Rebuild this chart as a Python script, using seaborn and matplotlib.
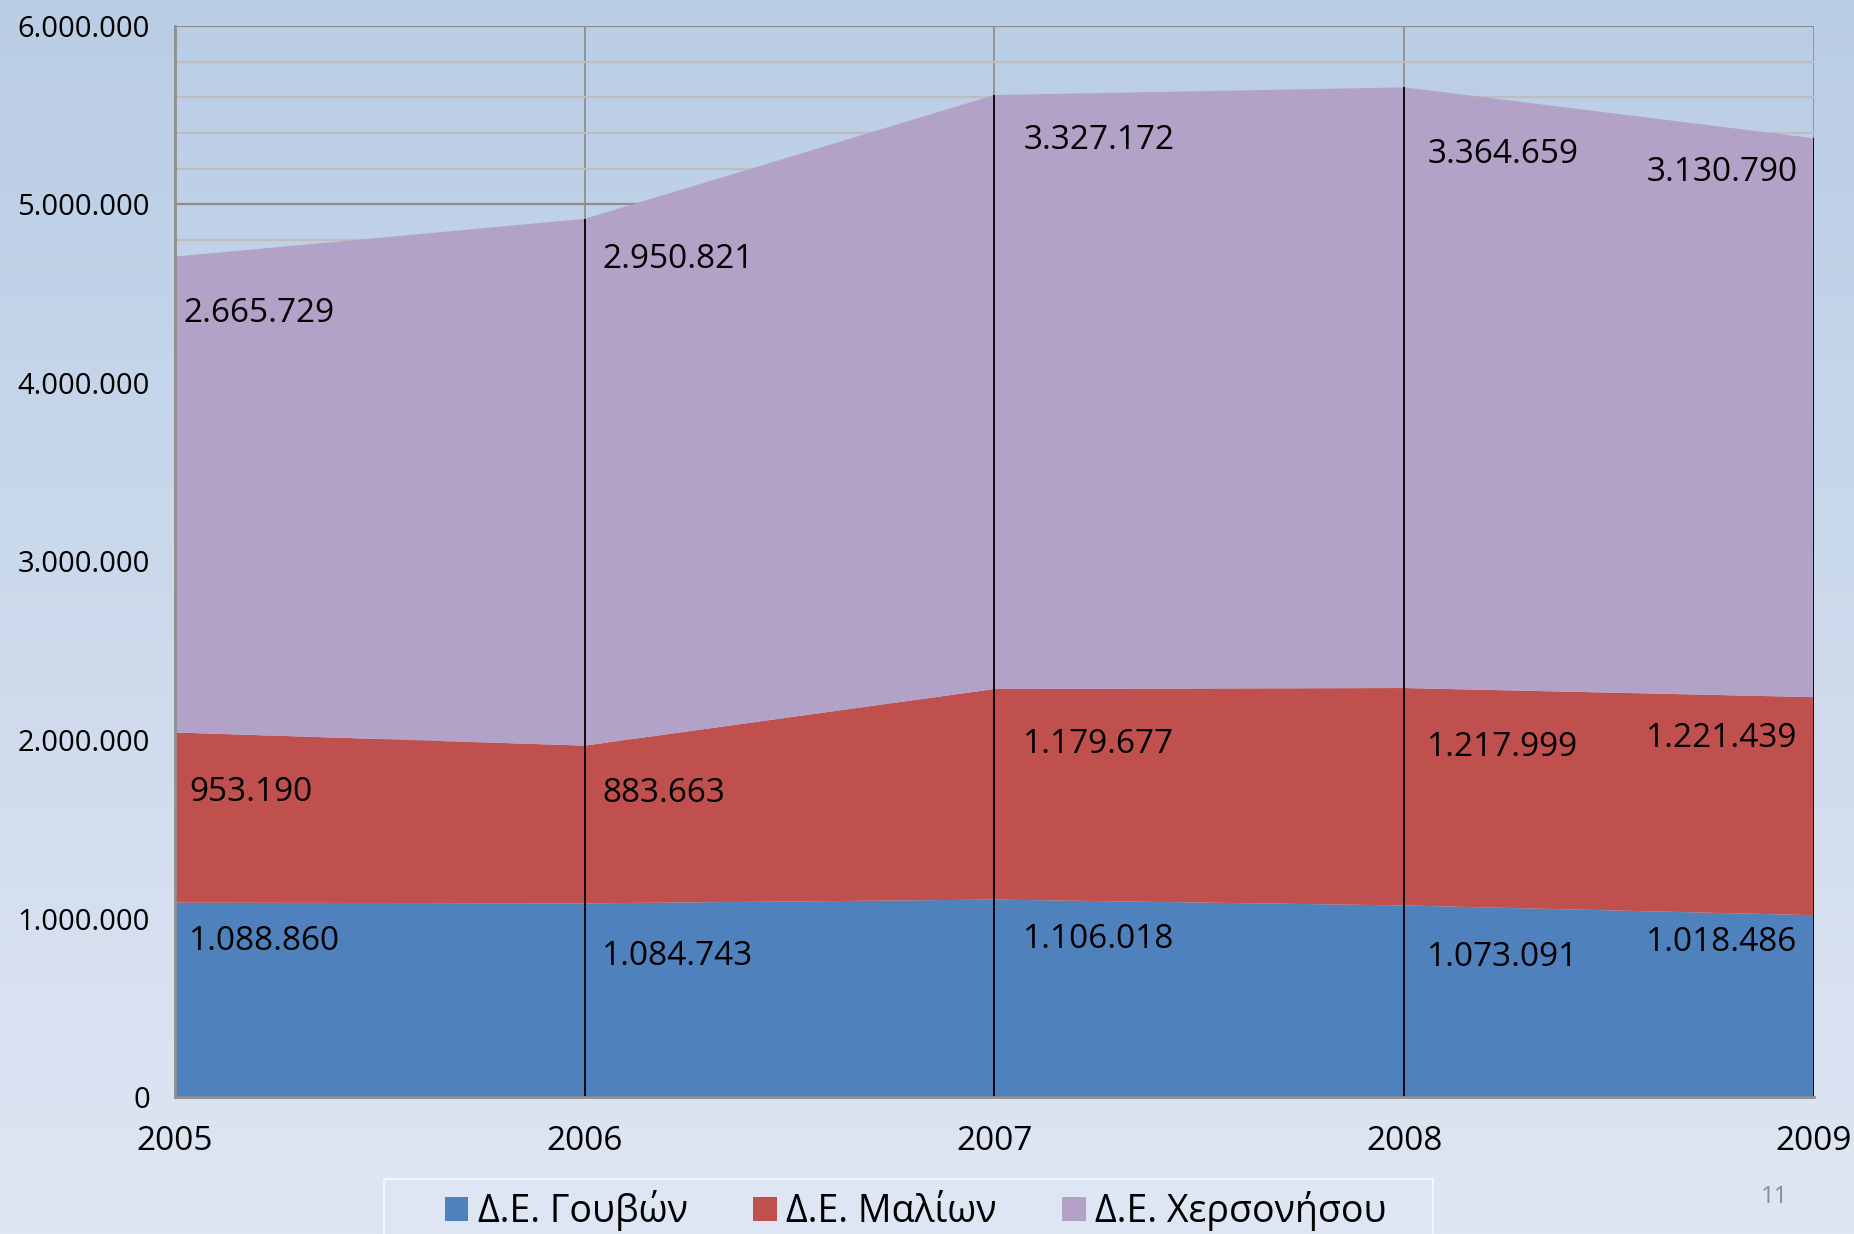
import numpy as np
import pandas as pd
import matplotlib
matplotlib.use('Agg')
import matplotlib.pyplot as plt
import seaborn as sns
from matplotlib.patches import Rectangle
from matplotlib.ticker import FuncFormatter, MultipleLocator

sns.set_style('white')
plt.rcParams['font.family'] = ['Open Sans', 'DejaVu Sans']
plt.rcParams['text.color'] = 'black'
plt.rcParams['xtick.color'] = 'black'
plt.rcParams['ytick.color'] = 'black'

# ---- data ----
years = [2005, 2006, 2007, 2008, 2009]
gouves = [1088860, 1084743, 1106018, 1073091, 1018486]
malia = [953190, 883663, 1179677, 1217999, 1221439]
chersonisos = [2665729, 2950821, 3327172, 3364659, 3130790]
series_names = ['Δ.Ε. Γουβών', 'Δ.Ε. Μαλίων', 'Δ.Ε. Χερσονήσου']
colors = ['#4F81BD', '#C0504D', '#B3A2C7']

# label placement (offset below the band top, in axis units / years)
label_drop = {
    series_names[0]: [220000, 297000, 225000, 291000, 151000],
    series_names[1]: [334000, 266000, 312000, 331000, 233000],
    series_names[2]: [317000, 230000, 255000, 377000, 192000],
}
label_dx = [0.035, 0.042, 0.07, 0.056, -0.04]

df = pd.DataFrame({'year': years, series_names[0]: gouves,
                   series_names[1]: malia, series_names[2]: chersonisos})


def dotted(v, pos=None):
    return f'{int(v):,}'.replace(',', '.')


fig = plt.figure(figsize=(18.54, 12.34), dpi=100)

# background gradient
bg = fig.add_axes([0, 0, 1, 1], zorder=-10)
grad = np.linspace(0, 1, 256).reshape(-1, 1)
cmap = matplotlib.colors.LinearSegmentedColormap.from_list('bg', ['#B9CDE5', '#DFE6F3'])
bg.imshow(grad, aspect='auto', cmap=cmap, extent=[0, 1, 0, 1], origin='upper')
bg.axis('off')

ax = fig.add_axes([0.0944, 0.111, 0.884, 0.868])
ax.patch.set_alpha(0)

# grid (behind areas)
ax.yaxis.set_major_locator(MultipleLocator(1000000))
ax.yaxis.set_minor_locator(MultipleLocator(200000))
ax.grid(which='minor', axis='y', color='#BDBDBD', lw=1.6, zorder=0)
ax.grid(which='major', axis='y', color='#8E8E8E', lw=1.6, zorder=0)
ax.grid(which='major', axis='x', color='#8E8E8E', lw=1.3, zorder=0)

ax.stackplot(df['year'], df[series_names[0]], df[series_names[1]], df[series_names[2]],
             colors=colors, labels=series_names, edgecolor='none', linewidth=0, zorder=2)

# drop lines
stack = df[series_names].cumsum(axis=1)
ax.vlines(df['year'], 0, stack[series_names[2]], color='black', lw=1.3, zorder=3)

# data labels
for name in series_names:
    tops = stack[name]
    vals = df[name]
    for i, yr in enumerate(years):
        ha = 'right' if label_dx[i] < 0 else 'left'
        dx = label_dx[i]
        if i == 0 and name == series_names[2]:
            dx = 0.02
        ax.text(yr + dx, tops[i] - label_drop[name][i], dotted(vals[i]), ha=ha, va='center',
                fontsize=24, color='black', zorder=4)

ax.set_xlim(2005, 2009)
ax.set_ylim(0, 6000000)
ax.set_xticks(years)
ax.set_xticklabels([str(y) for y in years])
ax.yaxis.set_major_formatter(FuncFormatter(dotted))
ax.tick_params(axis='y', which='major', labelsize=21, length=8, width=1.5, color='#8E8E8E', pad=10)
ax.tick_params(axis='y', which='minor', length=0)
ax.tick_params(axis='x', labelsize=24, length=12, width=1.5, color='#8E8E8E', pad=8)
for s in ['top', 'right']:
    ax.spines[s].set_visible(False)
for s in ['left', 'bottom']:
    ax.spines[s].set_color('#8E8E8E')
    ax.spines[s].set_linewidth(2)
    ax.spines[s].set_zorder(5)

# legend box (runs off the bottom edge, as in the slide)
fig.patches.append(Rectangle((0.207, -0.01), 0.566, 0.0546, transform=fig.transFigure,
                             facecolor='#DFE6F3', edgecolor='#F2F5FA', lw=1.5, zorder=-5))
leg = fig.legend(*ax.get_legend_handles_labels(), loc='center', ncol=3,
                 bbox_to_anchor=(0.494, 0.019), fontsize=27, frameon=False,
                 handlelength=0.63, handleheight=0.63, handletextpad=0.25, columnspacing=1.75,
                 borderpad=0, borderaxespad=0)

fig.text(0.957, 0.03, '11', fontsize=17, color='#8C8C8C', ha='center', va='center')

fig.savefig('out.png', dpi=100)
